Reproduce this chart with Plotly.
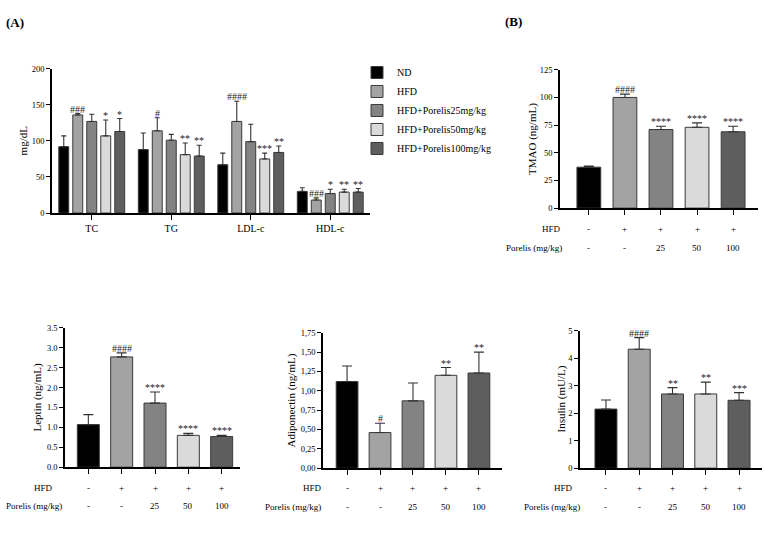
import plotly.graph_objects as go

W, H = 765, 534
FONT = "Liberation Serif"

# ---------------- data ----------------
lipid_categories = ["TC", "TG", "LDL-c", "HDL-c"]
group_names = ["ND", "HFD", "HFD+Porelis25mg/kg", "HFD+Porelis50mg/kg", "HFD+Porelis100mg/kg"]
group_colors = ["#000000", "#a3a3a3", "#838383", "#dadada", "#5e5e5e"]

lipid_nd = [92, 88, 67, 30]
lipid_hfd = [136, 114, 127, 18]
lipid_p25 = [127, 101, 99, 27]
lipid_p50 = [107, 81, 75, 29]
lipid_p100 = [113, 79, 84, 29]
lipid_nd_err = [15, 23, 16, 5]
lipid_hfd_err = [2, 18, 28, 3]
lipid_p25_err = [10, 8, 24, 6]
lipid_p50_err = [22, 16, 8, 4]
lipid_p100_err = [18, 15, 9, 5]
lipid_nd_sig = ["", "", "", ""]
lipid_hfd_sig = ["###", "#", "####", "###"]
lipid_p25_sig = ["", "", "", "*"]
lipid_p50_sig = ["*", "**", "***", "**"]
lipid_p100_sig = ["*", "**", "**", "**"]

group_short = ["ND", "HFD", "P25", "P50", "P100"]
hfd_row = ["-", "+", "+", "+", "+"]
porelis_row = ["-", "-", "25", "50", "100"]

tmao_mean = [37, 100, 71, 73, 69]
tmao_err = [1, 3, 3, 4, 5]
tmao_sig = ["", "####", "****", "****", "****"]

leptin_mean = [1.07, 2.77, 1.61, 0.80, 0.77]
leptin_err = [0.25, 0.10, 0.28, 0.05, 0.03]
leptin_sig = ["", "####", "****", "****", "****"]

adipo_mean = [1.12, 0.46, 0.87, 1.20, 1.23]
adipo_err = [0.20, 0.12, 0.23, 0.10, 0.27]
adipo_sig = ["", "#", "", "**", "**"]

insulin_mean = [2.15, 4.33, 2.70, 2.70, 2.47]
insulin_err = [0.33, 0.42, 0.23, 0.43, 0.28]
insulin_sig = ["", "####", "**", "**", "***"]

lipid_ticks = [0, 50, 100, 150, 200]
tmao_ticks = [0, 25, 50, 75, 100, 125]
leptin_ticks = [0, 0.5, 1.0, 1.5, 2.0, 2.5, 3.0, 3.5]
leptin_ticktext = ["0.0", "0.5", "1.0", "1.5", "2.0", "2.5", "3.0", "3.5"]
adipo_ticks = [0, 0.25, 0.5, 0.75, 1.0, 1.25, 1.5, 1.75]
adipo_ticktext = ["0,00", "0,25", "0,50", "0,75", "1,00", "1,25", "1,50", "1,75"]
insulin_ticks = [0, 1, 2, 3, 4, 5]

# ---------------- helpers ----------------
def px_x(p):
    return p / W

def px_y(p):
    return 1 - p / H

fig = go.Figure()
annotations = []

def label(x, y, text, size=9, angle=0, color="black"):
    annotations.append(dict(x=px_x(x), y=px_y(y), xref="paper", yref="paper", text=text,
                            showarrow=False, xanchor="center", yanchor="middle",
                            textangle=angle, borderpad=0,
                            font=dict(family=FONT, size=size, color=color)))

AX_COMMON = dict(showline=True, linecolor="black", linewidth=1.6, ticks="outside",
                 tickcolor="black", tickwidth=1.4, showgrid=False, zeroline=False,
                 tickfont=dict(family=FONT, size=8.5, color="black"))

SIG_FONT = dict(family=FONT, size=10, color="#222")

# ---------------- panel A ----------------
lipid_series = [
    (lipid_nd, lipid_nd_err, lipid_nd_sig),
    (lipid_hfd, lipid_hfd_err, lipid_hfd_sig),
    (lipid_p25, lipid_p25_err, lipid_p25_sig),
    (lipid_p50, lipid_p50_err, lipid_p50_sig),
    (lipid_p100, lipid_p100_err, lipid_p100_sig),
]
BARGAP = 0.12
BARGROUPGAP = 0.29
n = len(lipid_series)
gw = 1 - BARGAP
slot = gw / n
for i, (vals, errs, sigs) in enumerate(lipid_series):
    fig.add_trace(go.Bar(
        x=lipid_categories, y=vals, name=group_names[i],
        marker=dict(color=group_colors[i], line=dict(color="#3a3a3a", width=1)),
        error_y=dict(type="data", array=errs, arrayminus=[0] * len(errs), symmetric=False,
                     color="#333333", thickness=1.1, width=2.5),
        xaxis="x", yaxis="y", showlegend=True,
    ))
    off = -gw / 2 + slot * (i + 0.5)
    for j, s in enumerate(sigs):
        if s:
            annotations.append(dict(x=j + off, y=vals[j] + errs[j], xref="x", yref="y",
                                    text=s, showarrow=False, xanchor="center", yanchor="bottom",
                                    yshift=-2, borderpad=0, font=SIG_FONT))

fig.update_layout(
    xaxis=dict(domain=[px_x(52), px_x(370)], anchor="y", type="category",
               range=[-0.5, 3.5], ticklen=5, **{k: v for k, v in AX_COMMON.items() if k != "tickfont"},
               tickfont=dict(family=FONT, size=10, color="black")),
    yaxis=dict(domain=[px_y(212), px_y(65)], anchor="x", range=[0, 200],
               tickvals=lipid_ticks, ticklen=4, **AX_COMMON),
)
label(23, 138, "mg/dL", size=11, angle=-90)

# ---------------- single-series panels ----------------
def single_panel(idx, means, errs, sigs, tickvals, ticktext, ymax, xdom, ydom, xrange,
                 title, title_x, row_y, hfd_lbl_x, por_lbl_x):
    xa = f"x{idx}"
    ya = f"y{idx}"
    fig.add_trace(go.Bar(
        x=group_short, y=means, width=0.66,
        marker=dict(color=group_colors, line=dict(color="#3a3a3a", width=1)),
        error_y=dict(type="data", array=errs, arrayminus=[0] * len(errs), symmetric=False,
                     color="#333333", thickness=1.1, width=5),
        xaxis=xa, yaxis=ya, showlegend=False,
    ))
    for j, s in enumerate(sigs):
        if s:
            annotations.append(dict(x=j, y=means[j] + errs[j], xref=xa, yref=ya, text=s,
                                    showarrow=False, xanchor="center", yanchor="bottom",
                                    yshift=-2, borderpad=0, font=SIG_FONT))
    for j in range(len(means)):
        for txt, ry in ((hfd_row[j], row_y[0]), (porelis_row[j], row_y[1])):
            annotations.append(dict(x=j, y=px_y(ry), xref=xa, yref="paper", text=txt,
                                    showarrow=False, xanchor="center", yanchor="middle",
                                    borderpad=0, font=dict(family=FONT, size=9, color="black")))
    label(hfd_lbl_x, row_y[0], "HFD")
    label(por_lbl_x, row_y[1], "Porelis (mg/kg)")
    label(title_x, (ydom[0] + ydom[1]) / 2, title, size=11, angle=-90)
    fig.layout[f"xaxis{idx}"] = dict(domain=[px_x(xdom[0]), px_x(xdom[1])], anchor=ya,
                                     type="category", range=xrange, showticklabels=False,
                                     ticklen=5, **AX_COMMON)
    fig.layout[f"yaxis{idx}"] = dict(domain=[px_y(ydom[1]), px_y(ydom[0])], anchor=xa,
                                     range=[0, ymax], tickvals=tickvals, ticktext=ticktext,
                                     ticklen=4, **AX_COMMON)

single_panel(2, tmao_mean, tmao_err, tmao_sig, tmao_ticks, [str(t) for t in tmao_ticks], 125,
             (560, 758), (66, 207), [-0.8, 4.69], "TMAO (ng/mL)", 533, (228, 248), 551, 534)
single_panel(3, leptin_mean, leptin_err, leptin_sig, leptin_ticks, leptin_ticktext, 3.5,
             (65, 240), (329, 471), [-0.7, 4.55], "Leptin (ng/mL)", 38, (492, 511), 43, 34)
single_panel(4, adipo_mean, adipo_err, adipo_sig, adipo_ticks, adipo_ticktext, 1.75,
             (323, 502), (334, 472), [-0.73, 4.7], "Adiponectin (ng/mL)", 291, (492, 512), 312, 293)
single_panel(5, insulin_mean, insulin_err, insulin_sig, insulin_ticks,
             [str(t) for t in insulin_ticks], 5,
             (580, 762), (332, 472), [-0.78, 4.69], "Insulin (mU/L)", 561, (492, 512), 563, 552)

# panel labels
label(15, 18, "<b>(A)</b>", size=13)
label(513, 17, "<b>(B)</b>", size=13)

fig.update_layout(
    width=W, height=H, margin=dict(l=0, r=0, t=0, b=0),
    paper_bgcolor="white", plot_bgcolor="white",
    barmode="group", bargap=BARGAP, bargroupgap=BARGROUPGAP,
    font=dict(family=FONT, size=9, color="black"),
    legend=dict(x=px_x(357), y=px_y(54), xanchor="left", yanchor="top",
                font=dict(family=FONT, size=10, color="black"), itemwidth=30,
                bgcolor="rgba(0,0,0,0)", tracegroupgap=0),
    annotations=annotations,
)

fig.write_html("out.html")
